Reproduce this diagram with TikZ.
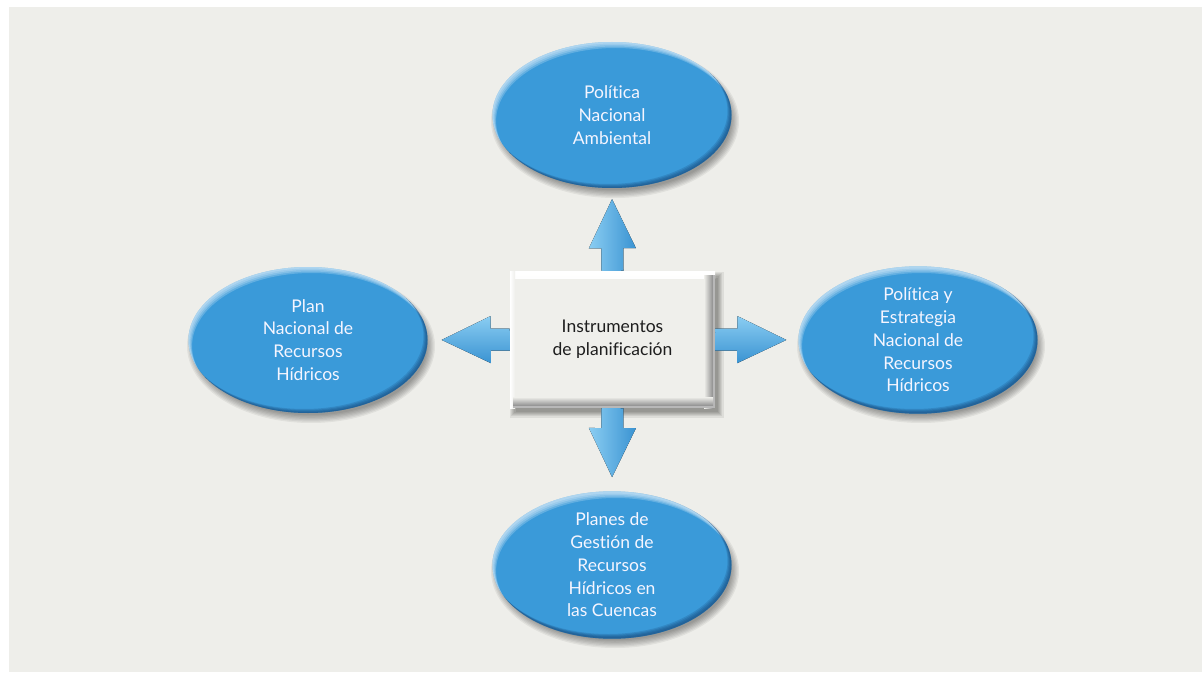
\documentclass[tikz,border=0pt]{standalone}
\usepackage{fontspec}
\setmainfont{Lato}[Ligatures=NoCommon]
\usetikzlibrary{shapes.geometric,calc}
\definecolor{bg}{HTML}{EEEEEA}
\definecolor{ebase}{HTML}{3A9AD9}
\definecolor{edark}{HTML}{123F70}
\definecolor{elight}{HTML}{F4FAFF}
\definecolor{alight}{HTML}{8ACDF2}
\definecolor{adark}{HTML}{3A93D2}
\definecolor{txt}{HTML}{1E1E1E}
\pgfdeclarelayer{back}
\pgfdeclarelayer{mid}
\pgfsetlayers{back,mid,main}
\newcommand\blockarr[3]{%
  \coordinate (hb) at ($(#2)!49pt!(#1)$);
  \def\arrpath{($(#1)!11pt!90:(#2)$) -- ($(hb)!11pt!-90:(#1)$) -- ($(hb)!23.5pt!-90:(#1)$) -- (#2)
    -- ($(hb)!23.5pt!90:(#1)$) -- ($(hb)!11pt!90:(#1)$) -- ($(#1)!11pt!-90:(#2)$) -- cycle}%
  \foreach \s in {1,2,3}{\fill[black,opacity=0.07,shift={(1+\s*0.7,1.5+\s)}] \arrpath;}
  \fill[#3] \arrpath;}
\newcommand\ellshadow[1]{%
  \foreach \k in {0,...,6}{\fill[black,opacity=0.06] ($(#1)+(3,6)$) ellipse ({(124-1.3*\k)*1pt} and {(77-1.3*\k)*1pt});}}
\begin{document}
\begin{tikzpicture}[x=1pt,y=-1pt,
  ell/.style={ellipse, minimum width=239pt, minimum height=146pt, inner sep=0pt,
    align=center, text=white!96!blue, font=\fontsize{17.5}{22.8}\selectfont,
    fill=ebase,
    path picture={
      \foreach \s in {1.5,3,4.5,6}{
        \fill[elight,opacity=0.22,even odd rule] ([xshift=-5pt,yshift=-5pt]path picture bounding box.south west) rectangle ([xshift=5pt,yshift=5pt]path picture bounding box.north east)
          ([xshift=0.6*\s pt,yshift=-\s pt]path picture bounding box.center) ellipse (119.5pt and 73pt);}
      \foreach \s in {1,2,3,4}{
        \fill[edark,opacity=0.2,even odd rule] ([xshift=-5pt,yshift=-5pt]path picture bounding box.south west) rectangle ([xshift=5pt,yshift=5pt]path picture bounding box.north east)
          ([xshift=-\s pt,yshift=\s pt]path picture bounding box.center) ellipse (119.5pt and 73pt);}
    }},
  box/.style={rectangle, minimum width=205pt, minimum height=137pt, inner sep=0pt,
    align=center, text=txt, font=\fontsize{17.5}{22.8}\selectfont, fill=bg!97!white,
    path picture={
      \fill[top color=white, bottom color=bg!97!white] (path picture bounding box.north west) rectangle ([yshift=-7pt]path picture bounding box.north east);
      \fill[left color=white, right color=bg!97!white] (path picture bounding box.north west) rectangle ([xshift=5pt]path picture bounding box.south west);
      \fill[left color=bg!97!white, right color=black!45] ([xshift=-11pt,yshift=-4pt]path picture bounding box.north east) rectangle ([xshift=-2pt]path picture bounding box.south east);
      \fill[black!28] ([xshift=-2pt,yshift=-4pt]path picture bounding box.north east) rectangle (path picture bounding box.south east);
      \fill[top color=bg!97!white, bottom color=black!45] ([xshift=3pt,yshift=11pt]path picture bounding box.south west) rectangle ([xshift=-2pt,yshift=2pt]path picture bounding box.south east);
      \fill[black!28] ([xshift=3pt,yshift=2pt]path picture bounding box.south west) rectangle (path picture bounding box.south east);
    }},
  vshade/.style={left color=alight, right color=adark},
  hshade/.style={top color=alight, bottom color=adark}
]
\useasboundingbox (0,0) rectangle (1203,674);
\begin{pgfonlayer}{back}
  \fill[white] (0,0) rectangle (1203,674);
  \fill[bg] (9,7) rectangle (1202,672);
  \coordinate (pt) at (612,115);
  \coordinate (pl) at (308,340);
  \coordinate (pr) at (918,340);
  \coordinate (pb) at (612,565);
  \ellshadow{pt}\ellshadow{pl}\ellshadow{pr}\ellshadow{pb}
  \foreach \k in {0,...,5}{\fill[black,opacity=0.07] ({616.5-107+\k*1.2},{344.5-73+\k*1.2}) rectangle ({616.5+107-\k*1.2},{344.5+73-\k*1.2});}
\end{pgfonlayer}

\node[ell] (t) at (pt) {Política\\Nacional\\Ambiental};
\node[ell] (l) at (pl) {Plan\\Nacional de\\Recursos\\Hídricos};
\node[ell] (r) at (pr) {Política y\\Estrategia\\Nacional de\\Recursos\\Hídricos};
\node[ell] (b) at (pb) {Planes de\\Gestión de\\Recursos\\Hídricos en\\las Cuencas};

\node[box] (c) at (612.5,339.5) {Instrumentos\\de planificación};

\coordinate (tt) at ($(t.south)!11pt!(c.north)$);
\coordinate (tb) at ($(b.north)!14pt!(c.south)$);
\coordinate (tl) at ($(l.east)!14pt!(c.west)$);
\coordinate (tr) at ($(r.west)!12pt!(c.east)$);

\begin{pgfonlayer}{mid}
  \blockarr{c.north}{tt}{vshade}
  \blockarr{c.south}{tb}{vshade}
  \blockarr{c.west}{tl}{hshade}
  \blockarr{c.east}{tr}{hshade}
\end{pgfonlayer}
\end{tikzpicture}
\end{document}
